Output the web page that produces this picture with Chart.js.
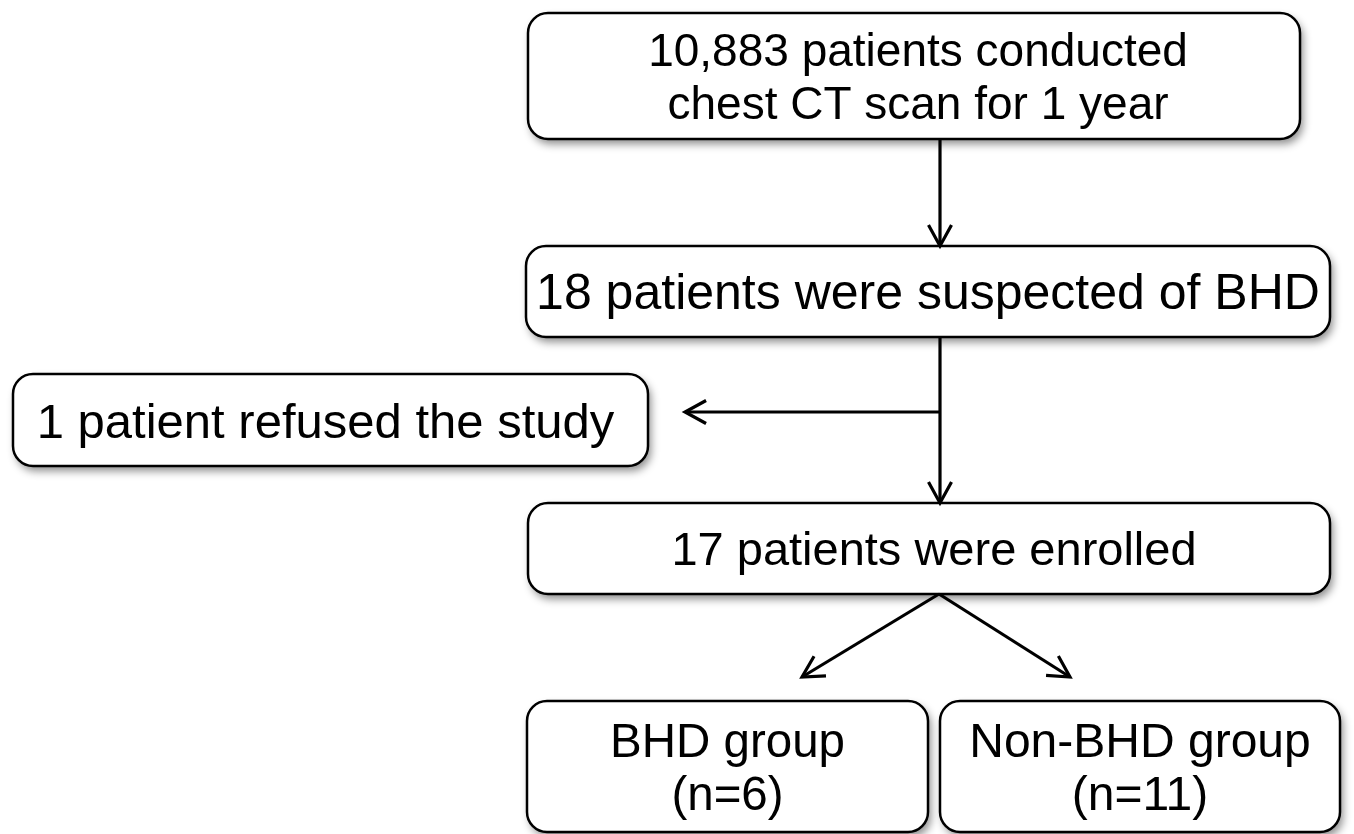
<!DOCTYPE html>
<html>
<head>
<meta charset="utf-8">
<script src="https://cdn.jsdelivr.net/npm/chart.js@4/dist/chart.umd.min.js"></script>
<style>
  html, body { margin: 0; padding: 0; background: #fff; }
  #wrap { width: 1354px; height: 834px; }
</style>
</head>
<body>
<div id="wrap"><canvas id="flow" width="1354" height="834"></canvas></div>
<script>
// DATA
const stepNames = ["screened", "suspected", "refused", "enrolled", "bhd", "nonBhd"];
const stepCounts = [10883, 18, 1, 17, 6, 11];
const stepText = [
  ["10,883 patients conducted", "chest CT scan for 1 year"],
  ["18 patients were suspected of BHD"],
  ["1 patient refused the study"],
  ["17 patients were enrolled"],
  ["BHD group", "(n=6)"],
  ["Non-BHD group", "(n=11)"]
];
const flowLinks = [["screened", "suspected"], ["suspected", "enrolled"], ["suspected", "refused"], ["enrolled", "bhd"], ["enrolled", "nonBhd"]];

// layout (page units, y down): left, top, right, bottom, font size, text x shift
const boxes = {
  screened:  [528, 13, 1300, 139, 46, 4],
  suspected: [526, 246, 1330, 337, 50, 0],
  refused:   [13, 374, 648, 466, 49, -5],
  enrolled:  [528, 503, 1330, 594, 47, 5],
  bhd:       [527, 701, 928, 832, 47.5, 0],
  nonBhd:    [940, 701, 1340, 832, 48, 0]
};
const arrows = [
  { from: [940, 139], to: [940, 246] },
  { from: [940, 337], to: [940, 503] },
  { from: [940, 412], to: [685, 412] },
  { from: [939, 594], to: [802, 677] },
  { from: [939, 594], to: [1070, 677] }
];

const flowPlugin = {
  id: "flow",
  afterDatasetsDraw(chart) {
    const { ctx, scales: { x, y } } = chart;
    const px = v => x.getPixelForValue(v);
    const py = v => y.getPixelForValue(v);
    ctx.save();
    // boxes
    stepNames.forEach((name, i) => {
      const b = boxes[name];
      const l = px(b[0]), t = py(b[1]), r = px(b[2]), bt = py(b[3]);
      ctx.save();
      ctx.shadowColor = "rgba(0,0,0,0.45)";
      ctx.shadowBlur = 9;
      ctx.shadowOffsetX = 3;
      ctx.shadowOffsetY = 5;
      ctx.beginPath();
      ctx.roundRect(l, t, r - l, bt - t, 20);
      ctx.fillStyle = "#fff";
      ctx.fill();
      ctx.restore();
      ctx.beginPath();
      ctx.roundRect(l, t, r - l, bt - t, 20);
      ctx.lineWidth = 2.5;
      ctx.strokeStyle = "#000";
      ctx.stroke();

      const lines = stepText[i];
      const size = b[4];
      ctx.font = size + "px 'Liberation Sans', Arial, sans-serif";
      ctx.fillStyle = "#000";
      ctx.textAlign = "center";
      ctx.textBaseline = "alphabetic";
      const cx = (l + r) / 2 + b[5], cy = (t + bt) / 2;
      const gap = 53;
      const cap = size * 0.716;
      lines.forEach((ln, k) => {
        const off = (k - (lines.length - 1) / 2) * gap;
        ctx.fillText(ln, cx, cy + off + cap / 2);
      });
    });
    // arrows
    ctx.strokeStyle = "#000";
    ctx.lineWidth = 3.2;
    ctx.lineCap = "butt";
    ctx.lineJoin = "miter";
    arrows.forEach(a => {
      const x1 = px(a.from[0]), y1 = py(a.from[1]);
      const x2 = px(a.to[0]), y2 = py(a.to[1]);
      ctx.beginPath();
      ctx.moveTo(x1, y1);
      ctx.lineTo(x2, y2);
      ctx.stroke();
      const ang = Math.atan2(y2 - y1, x2 - x1);
      const len = 24, spread = 0.5;
      ctx.beginPath();
      ctx.moveTo(x2 - len * Math.cos(ang - spread), y2 - len * Math.sin(ang - spread));
      ctx.lineTo(x2, y2);
      ctx.lineTo(x2 - len * Math.cos(ang + spread), y2 - len * Math.sin(ang + spread));
      ctx.stroke();
    });
    ctx.restore();
  }
};

new Chart(document.getElementById("flow"), {
  type: "scatter",
  data: {
    datasets: [{
      data: stepNames.map((n, i) => ({ x: (boxes[n][0] + boxes[n][2]) / 2, y: (boxes[n][1] + boxes[n][3]) / 2, count: stepCounts[i] })),
      pointRadius: 0,
      pointHoverRadius: 0
    }]
  },
  options: {
    responsive: false,
    animation: false,
    layout: { padding: 0 },
    plugins: { legend: { display: false }, tooltip: { enabled: false } },
    scales: {
      x: { type: "linear", min: 0, max: 1354, display: false },
      y: { type: "linear", min: 0, max: 834, reverse: true, display: false }
    }
  },
  plugins: [flowPlugin]
});
</script>
</body>
</html>
